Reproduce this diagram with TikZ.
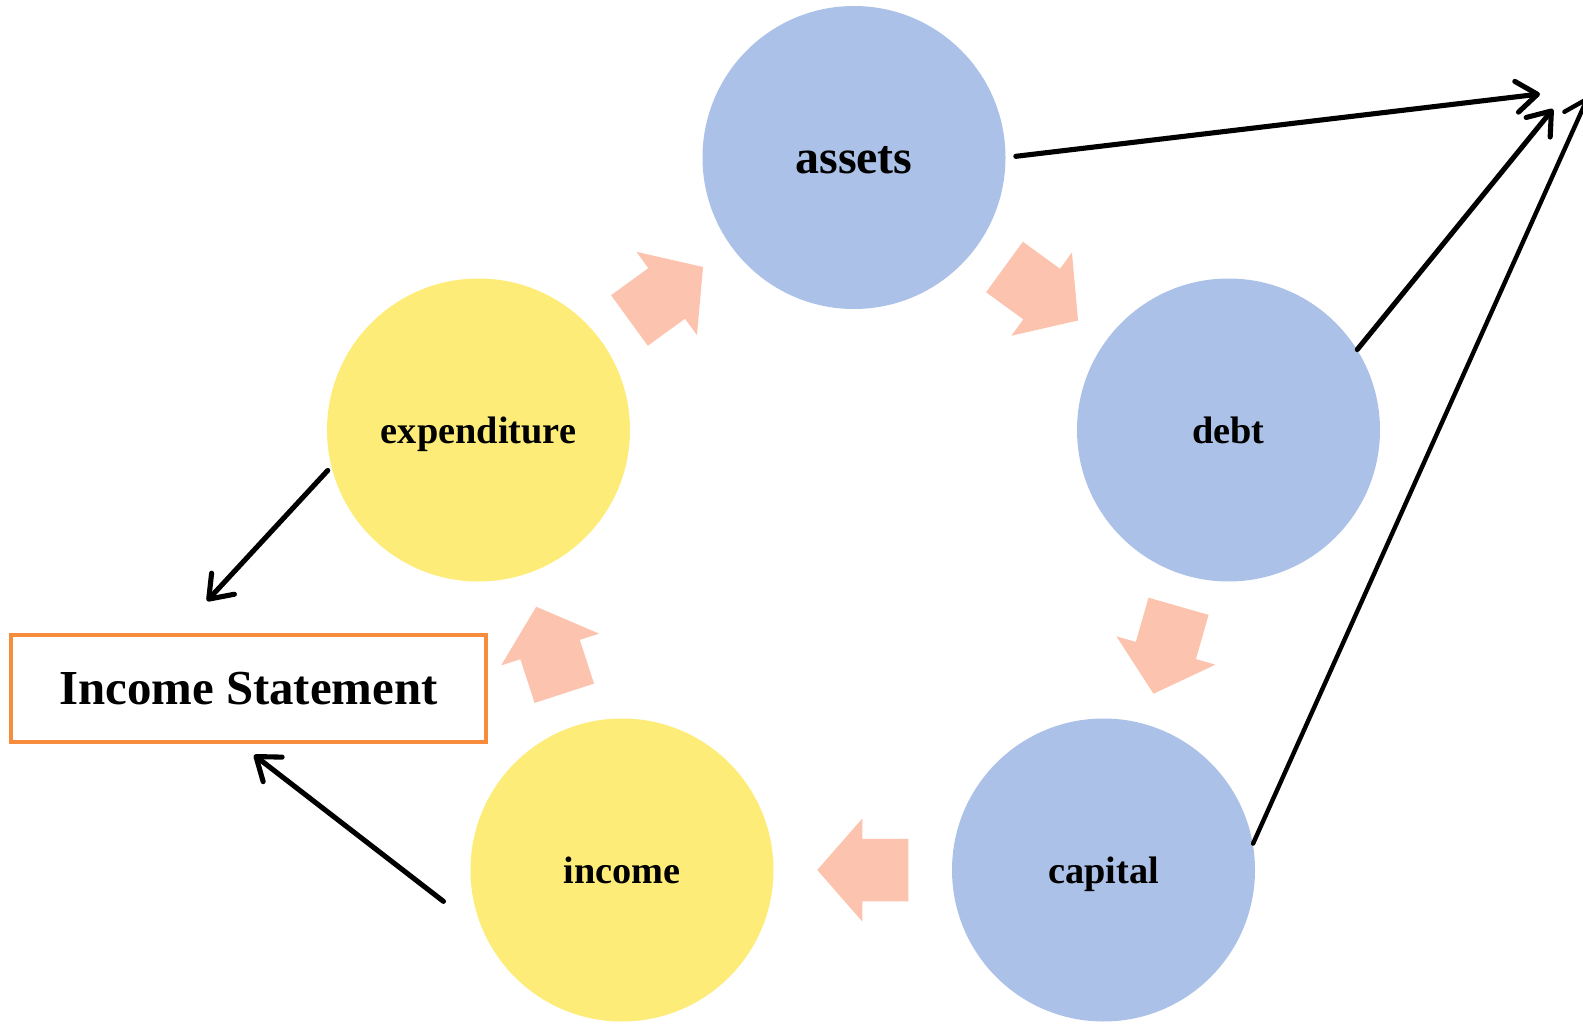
\documentclass[tikz,border=0pt]{standalone}
\usepackage{fontspec}
\setmainfont{Liberation Serif}
\usetikzlibrary{calc,arrows.meta}
\definecolor{bluefill}{RGB}{172,193,231}
\definecolor{yellowfill}{RGB}{253,236,120}
\definecolor{salmon}{RGB}{252,195,174}
\definecolor{boxorange}{RGB}{247,140,60}
\tikzset{
  account/.style={circle, minimum size=6.06cm, inner sep=0pt,
    text height=15pt, text depth=0pt,
    font=\bfseries\fontsize{21.8}{26}\selectfont},
  balance/.style={account, fill=bluefill},
  flowacc/.style={account, fill=yellowfill},
  link/.style={line width=2.9pt, line cap=round,
    -{Straight Barb[length=0.42cm,width=0.62cm,round]}},
  flow/.pic={\fill[salmon] (-0.91,-0.625) -- (0.01,-0.625) -- (0.01,-1.03)
    -- (0.91,0) -- (0.01,1.03) -- (0.01,0.625) -- (-0.91,0.625) -- cycle;}
}
\begin{document}
\begin{tikzpicture}
  \clip (0,0) rectangle (31.66,20.48);
  % the five accounts
  \node[balance, text height=18pt, font=\bfseries\fontsize{27.3}{32}\selectfont] (assets) at (17.08,17.33) {assets};
  \node[balance] (debt) at (24.57,11.88) {debt};
  \node[balance] (capital) at (22.07,3.08) {capital};
  \node[flowacc] (income) at (12.44,3.08) {income};
  \node[flowacc] (expenditure) at (9.57,11.88) {expenditure};
  \node[draw=boxorange, line width=2.3pt, minimum width=9.5cm, minimum height=2.14cm,
    font=\bfseries\fontsize{27.8}{32}\selectfont] (stmt) at (4.97,6.71) {Income Statement};
  % cycle of block arrows
  \pic[rotate=36] at ($(expenditure)!0.5!(assets)$) {flow};
  \pic[rotate=-36] at ($(assets)!0.5!(debt)$) {flow};
  \pic[rotate=-106] at ($(debt)!0.5!(capital)$) {flow};
  \pic[rotate=180] at ($(capital)!0.5!(income)$) {flow};
  \pic[rotate=108] at ($(income)!0.5!(expenditure)$) {flow};
  % free ends
  \coordinate (t1) at (30.80,18.60);
  \coordinate (t2) at (31.06,18.30);
  \coordinate (t3) at (31.76,18.54);
  \coordinate (s1) at (4.14,8.46);
  \coordinate (s2) at (5.08,5.38);
  \draw[link, shorten <=0.2cm] (assets.0) -- (t1);
  \draw[link] (debt.32) -- (t2);
  \draw[link, line width=2.5pt] (capital.10) -- (t3);
  \draw[link, shorten <=0.1cm] (expenditure.194) -- (s1);
  \draw[link] ([shift={(-0.58,-0.1)}]income.190) -- (s2);
\end{tikzpicture}
\end{document}
